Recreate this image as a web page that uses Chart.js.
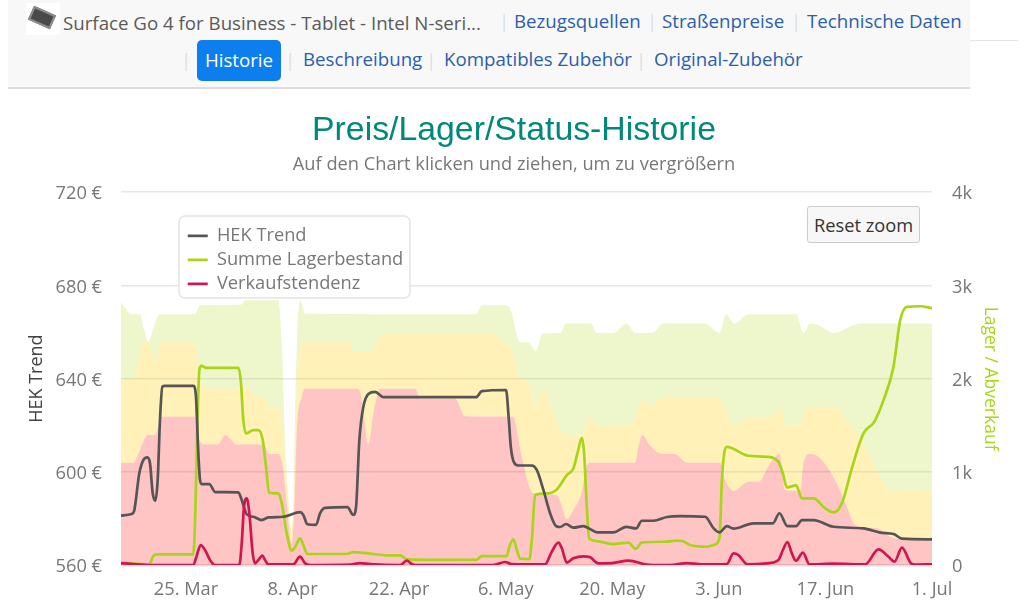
<!DOCTYPE html>
<html lang="de">
<head>
<meta charset="utf-8">
<title>Preis/Lager/Status-Historie</title>
<script src="https://cdn.jsdelivr.net/npm/chart.js@4/dist/chart.umd.min.js"></script>
<style>
html,body{margin:0;padding:0;background:#fff;width:1024px;height:613px;overflow:hidden;font-family:"Open Sans",sans-serif}
#nav{position:absolute;left:8px;top:0;width:962px;height:87px;background:#f8f8f9;border-bottom:2px solid #dcdcdc}
#rule{position:absolute;left:970px;top:40px;width:48px;height:1px;background:#e4e4e4}
.t{position:absolute;white-space:nowrap;font-size:18.7px;line-height:24px}
a.t{color:#2a5fad;text-decoration:none}
.s{color:#d9dfe6}
#pill{position:absolute;left:197px;top:40px;width:84px;height:41px;background:#0d7eee;border-radius:5px;color:#fff;text-align:center;font-size:18.7px;line-height:39px}
#thumb{position:absolute;left:26px;top:3px;width:34px;height:32px;background:#fff}
#thumb i{position:absolute;left:4px;top:7px;width:24px;height:15px;background:#4a4a4a;border:2px solid #8d8d8d;transform:rotate(24deg);box-sizing:border-box}
#chart{position:absolute;left:8px;top:90px}
#reset{position:absolute;left:807px;top:206px;width:113px;height:37px;box-sizing:border-box;background:#f7f7f7;border:1px solid #cccccc;border-radius:3px;color:#333;font:18.25px "Open Sans",sans-serif;text-align:center;line-height:35px;z-index:2}
</style>
</head>
<body>
<div id="nav"></div><div id="rule"></div>
<div id="thumb"><i></i></div>
<span class="t" style="left:63px;top:11px;color:#5a5a5a">Surface Go 4 for Business - Tablet - Intel N-seri...</span>
<span class="t s" style="left:499px;top:9px">|</span>
<a class="t" style="left:514px;top:9px">Bezugsquellen</a>
<span class="t s" style="left:647px;top:9px">|</span>
<a class="t" style="left:662px;top:9px">Straßenpreise</a>
<span class="t s" style="left:791px;top:9px">|</span>
<a class="t" style="left:807px;top:9px">Technische Daten</a>
<span class="t s" style="left:181px;top:48px">|</span>
<div id="pill">Historie</div>
<span class="t s" style="left:285px;top:48px">|</span>
<a class="t" style="left:303px;top:47px">Beschreibung</a>
<span class="t s" style="left:426px;top:48px">|</span>
<a class="t" style="left:444px;top:47px">Kompatibles Zubehör</a>
<span class="t s" style="left:636px;top:48px">|</span>
<a class="t" style="left:654px;top:47px">Original-Zubehör</a>
<canvas id="chart" width="1012" height="523"></canvas>
<div id="reset">Reset zoom</div>
<script>
// x values are days relative to 25 March
const tickDays = [0, 14, 28, 42, 56, 70, 84, 98];
const tickLabels = ['25. Mar', '8. Apr', '22. Apr', '6. May', '20. May', '3. Jun', '17. Jun', '1. Jul'];
const priceTicks = [560, 600, 640, 680, 720];
const stockTicks = [0, 1000, 2000, 3000, 4000];

const trendDays = [-8.54,-7.14,-6.83,-6.14,-5.61,-5.09,-4.73,-4.38,-4.03,-3.72,-3.42,-3.11,-2.76,0.96,1.31,1.58,1.84,2.06,3.06,3.85,6.87,7.32,7.98,8.84,9.95,10.81,12.79,14.98,15.41,15.94,17.08,17.61,18.27,21.2,21.98,22.34,22.77,23.3,23.96,24.84,25.93,28.12,38.11,38.86,42.05,42.35,42.67,43.1,43.67,45.43,46.08,46.95,47.83,48.62,49.15,49.93,50.89,52.21,53.09,53.97,56.15,57.82,59.13,59.88,61.41,63.17,64.92,68.2,69.32,70.08,71.05,71.92,74.55,77.1,77.96,79.01,80.16,80.91,82.43,85.06,89,91.2,92.96,94.05,98];
const trendValues = [581.2,581.9,583,599.3,605,606.2,603.7,590.9,587.6,596.5,622.2,636.5,636.9,636.9,632.2,610.7,596.5,594.7,594.7,591.3,591.2,587.9,581.7,580.7,579.3,580.4,580.7,582.7,581.5,577.5,577.2,582.2,584.5,584.8,581.5,585,613.6,627.9,633.4,634.3,632,632,632,634.6,635.1,625,610.7,603.9,602.7,602.7,600.8,592.2,582.2,576.7,576.3,577.6,576,576.7,575.4,574,574,576.4,575.7,579,579,580.6,581,580.7,575.7,574,576.7,575.6,577.9,577.9,582.2,576.7,576.7,579.3,579.3,576.4,575.7,573.9,573.3,571.3,571];

const stockDays = [-8.54,-4.82,-4.3,-3.85,0.96,1.22,1.48,1.75,2.01,2.72,6.87,7.19,7.53,7.88,8.84,9.5,10.08,10.51,10.91,12.13,12.58,13.23,13.89,14.36,14.98,15.41,15.94,21.12,21.98,24.61,26.37,28.12,29,38.11,38.86,42.14,42.48,43.01,43.46,43.89,45.11,45.43,45.86,47.4,48.71,50.03,50.89,51.42,52,52.3,52.65,52.96,53.97,55.94,58.12,59.09,59.88,63.17,64.39,65.2,66.23,68.42,69.29,70.08,70.4,70.7,71.05,73.89,76.31,77.83,78.41,78.94,80.16,80.91,82.43,83.97,85.06,86.16,87.47,89,90.41,91.63,92.94,93.82,94.7,96.45,98];
const stockValues = [25,8,96,115,115,554,1447,2090,2137,2115,2115,1983,1554,1412,1447,1447,1340,1054,775,768,661,340,153,196,286,214,118,118,139,118,104,104,61,54,96,96,196,275,161,68,64,268,750,768,811,965,1036,1197,1365,1197,625,286,257,225,239,172,243,250,261,257,214,196,214,286,911,1197,1268,1172,1161,1107,983,833,854,715,715,608,565,661,1037,1412,1536,1769,2126,2626,2769,2776,2755];

const tendencyDays = [-8.54,-7.22,-4.73,0.96,1.31,1.93,2.5,3.15,3.81,7,7.32,7.62,7.98,8.32,8.76,9.07,9.5,10.03,10.38,10.81,14.1,14.98,15.64,16.29,21.55,22.86,24.18,28.12,29,29.66,30.09,40.34,41.92,42.8,47.17,48.05,48.92,49.37,50.03,50.89,52.21,53.09,54.17,55.94,58.12,60.54,61.37,63.6,65.8,67.77,71.05,71.92,72.58,73.76,76.31,77.83,78.41,79.01,79.59,80.12,81.04,81.9,85.06,89.22,90.97,92.29,93.08,94.05,95.23,95.8,98];
const tendencyValues = [18,13,0,0,72,214,161,54,0,0,233,625,715,554,125,18,54,100,54,7,7,89,18,0,5,21,10,0,46,11,0,0,32,11,7,143,239,179,25,72,93,82,18,21,46,4,0,0,21,7,11,125,107,7,18,54,161,247,125,46,132,7,14,7,168,89,36,186,18,4,7];

const greenDays = [-8.54,-7.79,-7.14,-6.04,-5.61,-4.95,-4.38,-3.42,1.18,1.84,7.32,7.75,12.13,12.58,13.01,13.67,13.97,14.23,14.55,14.98,15.64,28.12,38.11,38.86,42.14,42.8,43.67,44.11,44.98,45.95,46.87,49.15,49.93,53.22,53.97,56.15,57.91,59,61.2,62.72,68.2,70.08,70.96,72.01,73.89,80.16,81.12,82,83.09,85.06,88.57,98];
const greenValues = [2823,2734,2691,2691,2555,2394,2519,2691,2691,2787,2795,2841,2841,2377,1340,411,340,1268,2340,2841,2698,2691,2691,2787,2787,2698,2412,2391,2391,2297,2484,2490,2591,2591,2490,2490,2591,2490,2490,2591,2591,2490,2691,2591,2691,2691,2490,2591,2573,2490,2591,2591];

const yellowDays = [-8.54,-6.92,-6.27,-5.61,-5.09,-4.51,-4.03,-3.19,1.18,1.62,2.27,4.03,8.41,9.07,10.38,11.04,12.35,12.79,13.23,13.89,14.23,14.63,15.41,21.55,21.98,24.18,25.93,40.17,41.7,42.58,43.23,43.89,44.98,45.99,46.87,48.27,49.59,51.77,52.43,53.09,53.88,58.12,59.22,59.96,60.97,62.51,70.17,70.83,71.92,73.89,76.96,77.96,78.94,80.25,81.77,85.51,86.82,89,91.2,92.73,98];
const yellowValues = [1994,1994,2198,2377,2391,2270,2198,2391,2391,2198,1911,1894,1894,1797,1786,1690,1680,1376,911,340,911,1983,2391,2391,2291,2291,2490,2490,2394,2340,2198,2001,1983,1697,1894,1626,1412,1394,1465,1590,1497,1497,1626,1787,1697,1794,1794,1680,1494,1590,1590,1690,1497,1497,1686,1686,1554,1304,947,796,796];

const redDays = [-8.54,-6.92,-6.04,-5.09,-4.07,-3.19,1.18,1.48,2.5,4.24,5.12,6.66,10.16,10.95,12.13,12.79,13.23,13.89,14.23,14.55,15.2,15.64,22.64,23.09,23.96,24.61,25.5,30.09,30.75,35.35,36.66,43.01,43.46,44.11,45.64,48.71,49.24,50.03,50.89,52,52.65,53.09,59,59.42,59.96,60.75,62.29,64.26,65.8,70.17,70.83,71.92,73.89,75.2,76.74,77.96,78.71,80.68,81.12,81.91,83.09,85.51,86.82,87.92,90.77,92.52,94.27,98];
const redValues = [1097,1097,1233,1394,1394,1590,1590,1412,1294,1294,1394,1294,1294,1190,1190,1018,661,233,625,1447,1804,1890,1890,1769,1297,1626,1890,1890,1787,1787,1597,1590,1447,1161,769,750,661,493,590,786,1072,1097,1097,1268,1394,1304,1197,1190,1097,1097,911,796,893,893,1090,1190,804,796,1090,1190,1161,875,625,429,393,303,275,275];

const points = (xs, ys) => xs.map((x, i) => ({x, y: ys[i]}));
const axisFont = {family: '"Open Sans", sans-serif', size: 18.25};

const legendFrame = {
  id: 'legendFrame',
  beforeDraw(chart) {
    const l = chart.legend;
    if (!l) return;
    const box = {left: 171, top: 126, width: 231, height: 82};
    l.left = box.left + 3; l.top = box.top + 5;
    l.right = box.left + box.width; l.bottom = box.top + box.height + 20;
    l.width = box.width; l.height = box.height + 20;
    if (!l._framed) {
      l._framed = true;
      const draw = l.draw;
      l.draw = function () {
        const c = chart.ctx;
        c.save();
        c.beginPath();
        c.roundRect(box.left, box.top, box.width, box.height, 6);
        c.fillStyle = '#fff'; c.fill();
        c.lineWidth = 1.5; c.strokeStyle = '#e4e4e4'; c.stroke();
        c.restore();
        draw.call(this);
      };
    }
  }
};

const line = (label, xs, ys, color, axis, order) => ({
  label, data: points(xs, ys), yAxisID: axis, order,
  borderColor: color, backgroundColor: color, borderWidth: 2.7,
  pointRadius: 0, cubicInterpolationMode: 'monotone', fill: false
});
const band = (label, xs, ys, color, fill, order) => ({
  label, data: points(xs, ys), yAxisID: 'y1', order,
  borderWidth: 0, borderColor: 'transparent', backgroundColor: color,
  pointRadius: 0, cubicInterpolationMode: 'monotone', fill
});

new Chart(document.getElementById('chart'), {
  type: 'line',
  plugins: [legendFrame],
  data: {
    datasets: [
      line('HEK Trend', trendDays, trendValues, '#555555', 'y', 2),
      line('Summe Lagerbestand', stockDays, stockValues, '#a8d518', 'y1', 3),
      line('Verkaufstendenz', tendencyDays, tendencyValues, '#cf1650', 'y1', 1),
      band('Grün', greenDays, greenValues, 'rgba(178,222,30,0.23)', '+1', 6),
      band('Gelb', yellowDays, yellowValues, 'rgba(255,204,0,0.28)', '+1', 5),
      band('Rot', redDays, redValues, 'rgba(255,0,0,0.23)', 'origin', 4)
    ]
  },
  options: {
    responsive: false,
    animation: false,
    layout: {padding: 0},
    plugins: {
      title: {
        display: true, text: 'Preis/Lager/Status-Historie', color: '#00897b',
        font: {family: '"Liberation Sans", Arial, sans-serif', size: 33.8, weight: 'normal'},
        padding: {top: 20, bottom: 1}
      },
      subtitle: {
        display: true, text: 'Auf den Chart klicken und ziehen, um zu vergrößern', color: '#777777',
        font: axisFont, padding: {top: 2, bottom: 16.7}
      },
      legend: {
        position: 'chartArea', align: 'start',
        labels: {
          usePointStyle: true, pointStyle: 'line', pointStyleWidth: 20,
          boxHeight: 14, padding: 5.75, color: '#777777', font: axisFont,
          filter: item => item.datasetIndex < 3,
          sort: (a, b) => a.datasetIndex - b.datasetIndex
        }
      },
      tooltip: {enabled: false}
    },
    scales: {
      x: {
        type: 'linear', min: -8.54, max: 98,
        afterBuildTicks: s => { s.ticks = tickDays.map(v => ({value: v})); },
        afterFit: s => { s.height = 48; },
        grid: {display: false}, border: {display: false},
        ticks: {
          autoSkip: false, maxRotation: 0, color: '#777777', font: axisFont, padding: 6,
          callback: v => tickLabels[tickDays.indexOf(v)]
        }
      },
      y: {
        position: 'left', min: 560, max: 720,
        afterBuildTicks: s => { s.ticks = priceTicks.map(v => ({value: v})); },
        afterFit: s => { s.width = 113; },
        border: {display: false},
        grid: {
          drawTicks: false,
          color: c => c.tick.value === 560 ? '#e0e0e0' : '#e6e6e6',
          lineWidth: c => c.tick.value === 560 ? 2.5 : 1.5
        },
        ticks: {color: '#777777', font: axisFont, padding: 19, labelOffset: 2, callback: v => v + ' €'},
        title: {display: true, text: 'HEK Trend', color: '#444444', font: {family: axisFont.family, size: 18}, padding: {top: 18, bottom: 0}}
      },
      y1: {
        position: 'right', min: 0, max: 4000,
        afterBuildTicks: s => { s.ticks = stockTicks.map(v => ({value: v})); },
        afterFit: s => { s.width = 88; },
        border: {display: false},
        grid: {display: false, drawTicks: false},
        ticks: {color: '#777777', font: axisFont, padding: 20, labelOffset: 2, callback: v => v === 0 ? '0' : (v / 1000) + 'k'},
        title: {display: true, text: 'Lager / Abverkauf', color: '#a8d518', font: {family: axisFont.family, size: 17.5}, padding: {top: 20, bottom: 0}}
      }
    }
  }
});
</script>
</body>
</html>
